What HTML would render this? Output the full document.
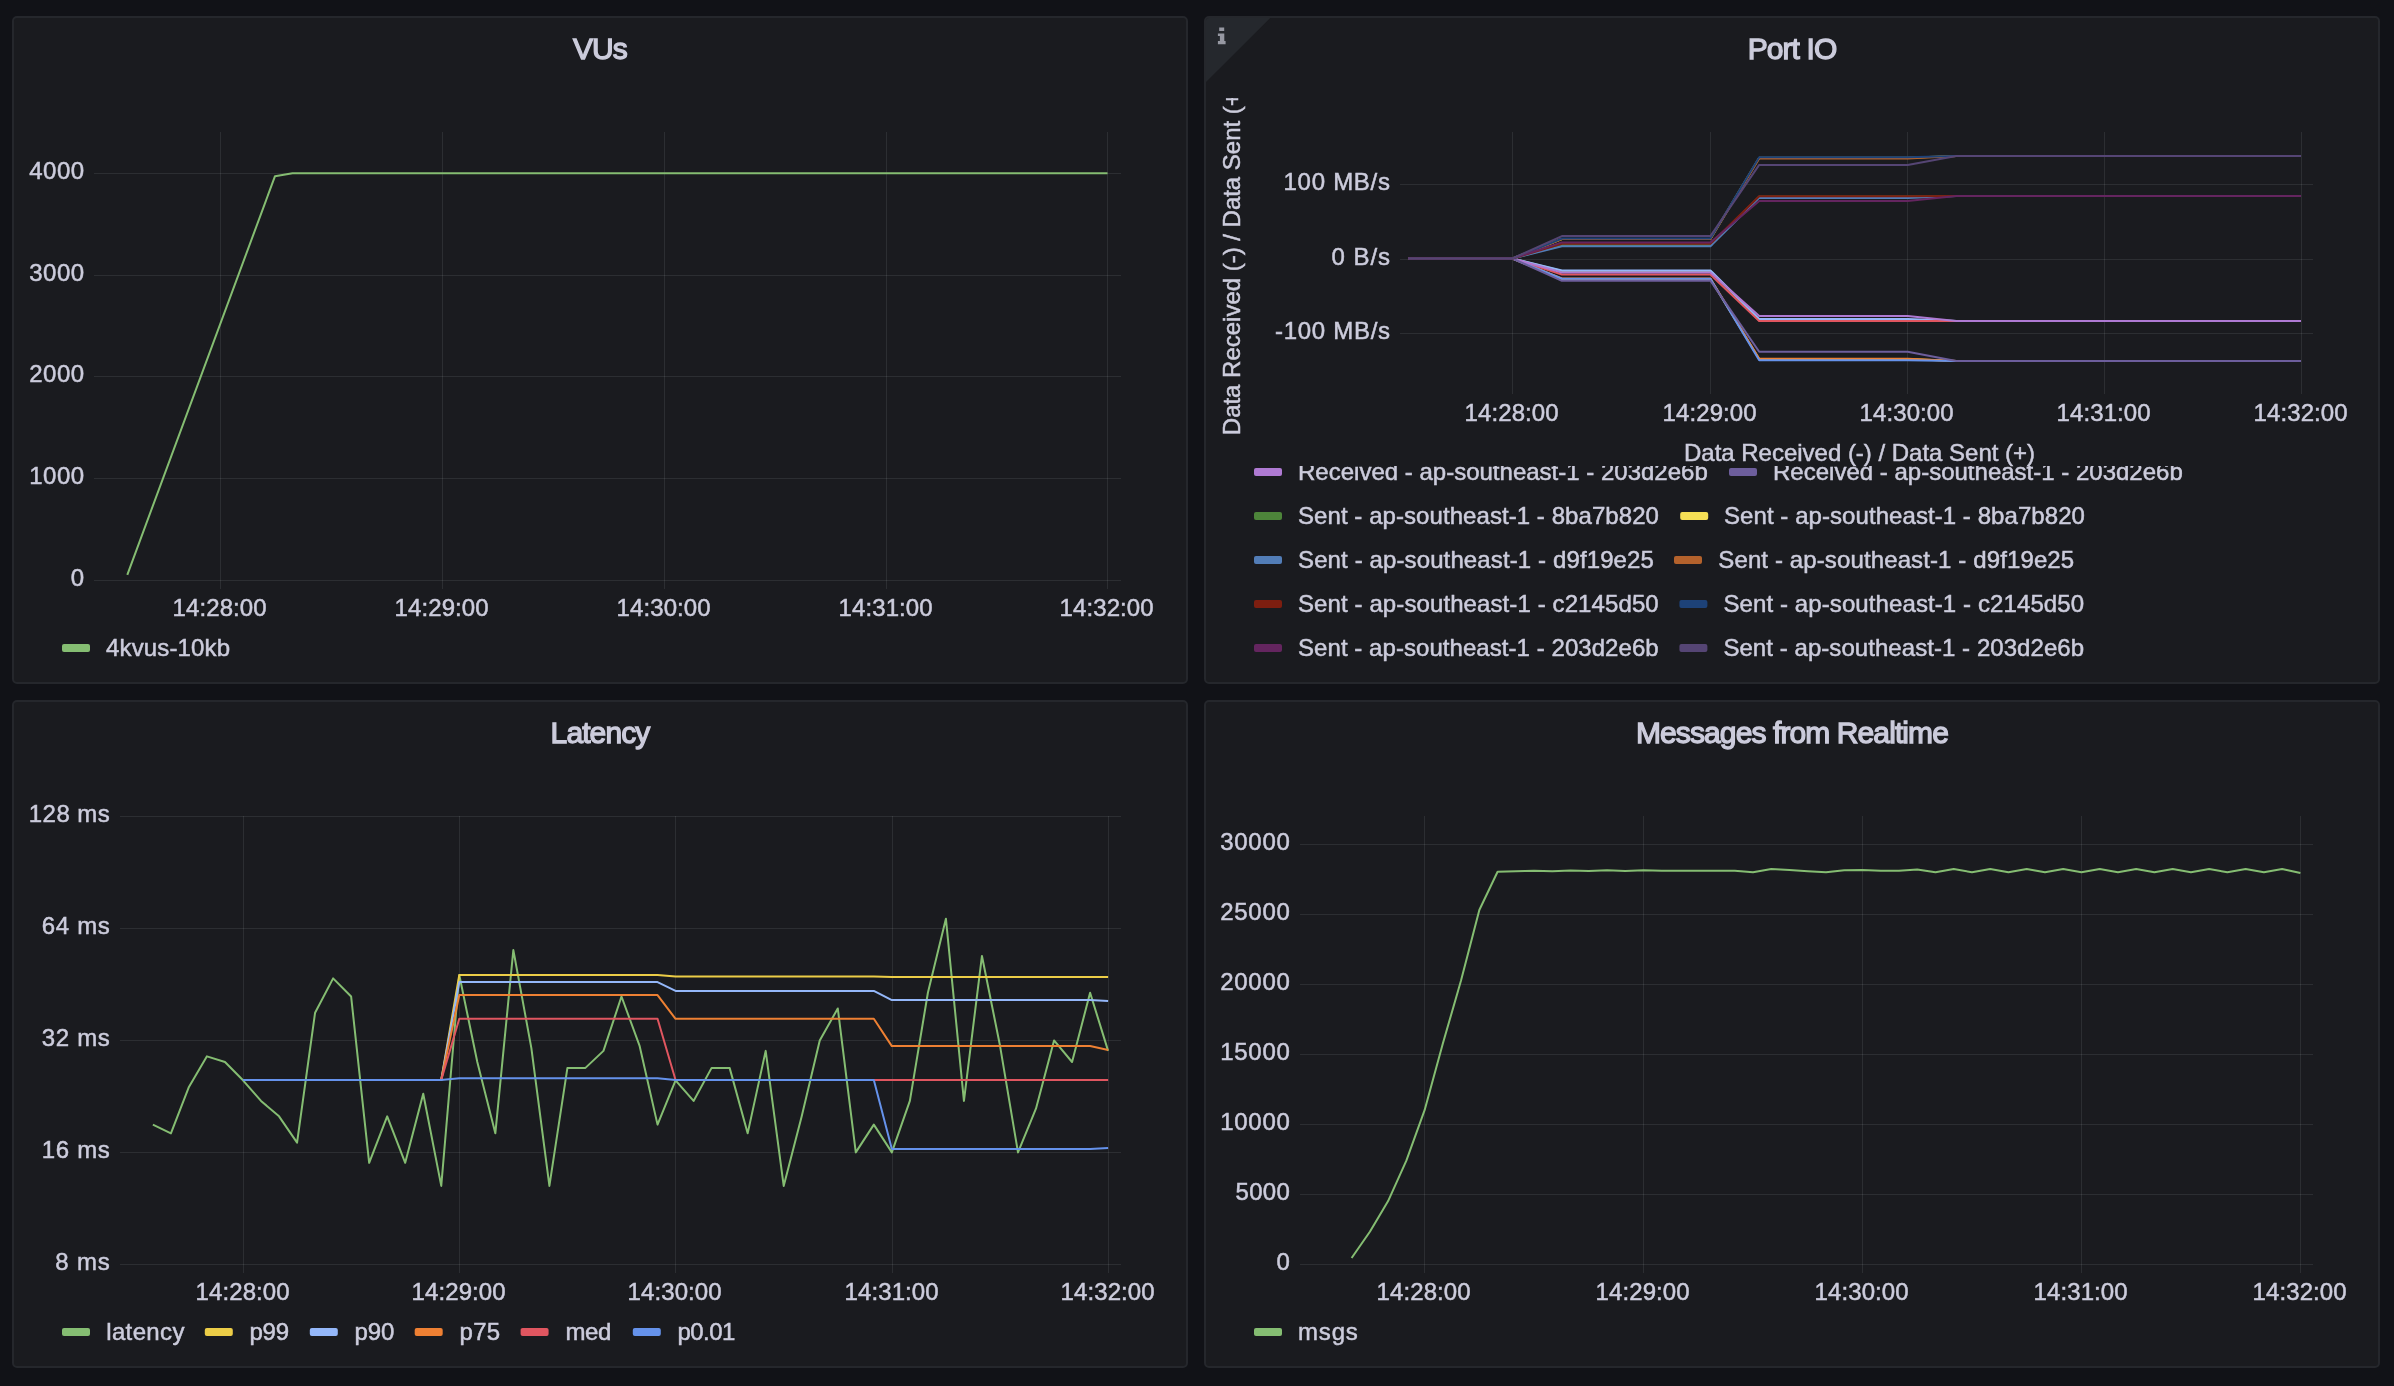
<!DOCTYPE html>
<html lang="en"><head><meta charset="utf-8"><title>Dashboard</title>
<style>
html,body{margin:0;padding:0;background:#111217;}
body{width:2394px;height:1386px;position:relative;overflow:hidden;font-family:"Liberation Sans", sans-serif;color:#ccccdc;}
.panel{position:absolute;box-sizing:border-box;background:#1a1b1f;border:2px solid #25272c;border-radius:5px;overflow:hidden;}
.title{position:absolute;left:0;right:0;top:11px;margin:0;text-align:center;font-size:30px;line-height:40px;font-weight:400;color:#ccccdc;-webkit-text-stroke:1.3px #ccccdc;letter-spacing:-0.9px;will-change:transform;}
.viz{position:absolute;left:-2px;top:-2px;display:block;will-change:transform;}
.viz text{font-family:"Liberation Sans", sans-serif;fill:#ccccdc;stroke:#ccccdc;stroke-width:0.5px;}
.grid rect{fill:rgba(240,250,255,0.085);shape-rendering:crispEdges;}
</style></head><body>
<section class="panel" style="left:12px;top:16px;width:1176px;height:668px">
<h2 class="title">VUs</h2>
<svg class="viz" width="1176" height="668" viewBox="12 16 1176 668">
<g class="grid">
<rect x="94" y="173" width="1027" height="1"/>
<rect x="94" y="275" width="1027" height="1"/>
<rect x="94" y="376" width="1027" height="1"/>
<rect x="94" y="478" width="1027" height="1"/>
<rect x="94" y="580" width="1027" height="1"/>
<rect x="220" y="132" width="1" height="457"/>
<rect x="442" y="132" width="1" height="457"/>
<rect x="664" y="132" width="1" height="457"/>
<rect x="886" y="132" width="1" height="457"/>
<rect x="1107" y="132" width="1" height="457"/>
</g>
<g class="ylabels">
<text x="84.2" y="179.2" text-anchor="end" font-size="24" textLength="55" lengthAdjust="spacing">4000</text>
<text x="84.2" y="281.2" text-anchor="end" font-size="24" textLength="55" lengthAdjust="spacing">3000</text>
<text x="84.2" y="382.2" text-anchor="end" font-size="24" textLength="55" lengthAdjust="spacing">2000</text>
<text x="84.2" y="484.2" text-anchor="end" font-size="24" textLength="55" lengthAdjust="spacing">1000</text>
<text x="84.2" y="586.2" text-anchor="end" font-size="24">0</text>
</g>
<g class="xlabels">
<text x="219.6" y="615.8" text-anchor="middle" font-size="24" textLength="94" lengthAdjust="spacing">14:28:00</text>
<text x="441.6" y="615.8" text-anchor="middle" font-size="24" textLength="94" lengthAdjust="spacing">14:29:00</text>
<text x="663.6" y="615.8" text-anchor="middle" font-size="24" textLength="94" lengthAdjust="spacing">14:30:00</text>
<text x="885.6" y="615.8" text-anchor="middle" font-size="24" textLength="94" lengthAdjust="spacing">14:31:00</text>
<text x="1106.6" y="615.8" text-anchor="middle" font-size="24" textLength="94" lengthAdjust="spacing">14:32:00</text>
</g>
<polyline points="127.3,574.8 275,176.2 292.5,173.3 1107.5,173.3" fill="none" stroke="#85bd72" stroke-width="2" stroke-linejoin="round" stroke-linecap="butt"/>
<g class="legend">
<rect x="62" y="644" width="28" height="8" rx="2" ry="2" fill="#85bd72"/>
<text x="106" y="656" text-anchor="start" font-size="24" textLength="124" lengthAdjust="spacing">4kvus-10kb</text>
</g>
</svg>
</section>
<section class="panel" style="left:1204px;top:16px;width:1176px;height:668px">
<h2 class="title">Port IO</h2>
<svg class="viz" width="1176" height="668" viewBox="1204 16 1176 668">
<polygon points="1206,18 1270.2,18 1206,82" fill="#25282d"/>
<path fill="#9698a2" d="M1219.2 27.5h5v3.6h-5z M1217.9 33.6h6.4v7.5h1.3v3.1h-7.7v-3.1h2v-5.1h-2z"/>
<g class="grid">
<rect x="1400" y="184" width="913" height="1"/>
<rect x="1400" y="259" width="913" height="1"/>
<rect x="1400" y="333" width="913" height="1"/>
<rect x="1512" y="132" width="1" height="262"/>
<rect x="1710" y="132" width="1" height="262"/>
<rect x="1907" y="132" width="1" height="262"/>
<rect x="2104" y="132" width="1" height="262"/>
<rect x="2301" y="132" width="1" height="262"/>
</g>
<g class="ylabels">
<text x="1390" y="190" text-anchor="end" font-size="24" textLength="106.5" lengthAdjust="spacing">100 MB/s</text>
<text x="1390" y="265" text-anchor="end" font-size="24" textLength="58.5" lengthAdjust="spacing">0 B/s</text>
<text x="1390" y="339" text-anchor="end" font-size="24" textLength="115" lengthAdjust="spacing">-100 MB/s</text>
</g>
<g class="xlabels">
<text x="1511.6" y="420.9" text-anchor="middle" font-size="24" textLength="94" lengthAdjust="spacing">14:28:00</text>
<text x="1709.6" y="420.9" text-anchor="middle" font-size="24" textLength="94" lengthAdjust="spacing">14:29:00</text>
<text x="1906.6" y="420.9" text-anchor="middle" font-size="24" textLength="94" lengthAdjust="spacing">14:30:00</text>
<text x="2103.6" y="420.9" text-anchor="middle" font-size="24" textLength="94" lengthAdjust="spacing">14:31:00</text>
<text x="2300.6" y="420.9" text-anchor="middle" font-size="24" textLength="94" lengthAdjust="spacing">14:32:00</text>
</g>
<clipPath id="c2"><rect x="1204" y="98" width="1176" height="600"/></clipPath>
<g clip-path="url(#c2)"><text transform="translate(1240 259.7) rotate(-90)" text-anchor="middle" font-size="24" textLength="351" lengthAdjust="spacing">Data Received (-) / Data Sent (+)</text></g>
<text x="1859.5" y="460.7" text-anchor="middle" font-size="24" textLength="351" lengthAdjust="spacing">Data Received (-) / Data Sent (+)</text>
<g class="series">
<polyline points="1408.2,258.5 1512.4,258.5 1561.9,271 1710.4,271 1759.2,320.5 1907.7,320.5 1956.2,321 2301,321" fill="none" stroke="#85bd72" stroke-width="2" stroke-linejoin="round" stroke-linecap="butt"/>
<polyline points="1408.2,258.5 1512.4,258.5 1561.9,279 1710.4,279 1759.2,359 1907.7,359 1956.2,361 2301,361" fill="none" stroke="#eccd47" stroke-width="2" stroke-linejoin="round" stroke-linecap="butt"/>
<polyline points="1408.2,258.5 1512.4,258.5 1561.9,270.4 1710.4,270.4 1759.2,319 1907.7,319 1956.2,321 2301,321" fill="none" stroke="#94b7f9" stroke-width="2" stroke-linejoin="round" stroke-linecap="butt"/>
<polyline points="1408.2,258.5 1512.4,258.5 1561.9,278.5 1710.4,278.5 1759.2,358.7 1907.7,358.7 1956.2,361 2301,361" fill="none" stroke="#ee8033" stroke-width="2" stroke-linejoin="round" stroke-linecap="butt"/>
<polyline points="1408.2,258.5 1512.4,258.5 1561.9,274.5 1710.4,274.5 1759.2,321.1 1907.7,321.1 1956.2,321 2301,321" fill="none" stroke="#e05660" stroke-width="2" stroke-linejoin="round" stroke-linecap="butt"/>
<polyline points="1408.2,258.5 1512.4,258.5 1561.9,278.7 1710.4,278.7 1759.2,360.2 1907.7,360.2 1956.2,361 2301,361" fill="none" stroke="#6592eb" stroke-width="2" stroke-linejoin="round" stroke-linecap="butt"/>
<polyline points="1408.2,258.5 1512.4,258.5 1561.9,272.5 1710.4,272.5 1759.2,315.9 1907.7,315.9 1956.2,321 2301,321" fill="none" stroke="#af7ad3" stroke-width="2" stroke-linejoin="round" stroke-linecap="butt"/>
<polyline points="1408.2,258.5 1512.4,258.5 1561.9,280.8 1710.4,280.8 1759.2,351.8 1907.7,351.8 1956.2,361 2301,361" fill="none" stroke="#6d5e9c" stroke-width="2" stroke-linejoin="round" stroke-linecap="butt"/>
<polyline points="1408.2,258.5 1512.4,258.5 1561.9,245 1710.4,245 1759.2,196.5 1907.7,196.5 1956.2,196 2301,196" fill="none" stroke="#4d853a" stroke-width="2" stroke-linejoin="round" stroke-linecap="butt"/>
<polyline points="1408.2,258.5 1512.4,258.5 1561.9,239 1710.4,239 1759.2,157.8 1907.7,157.8 1956.2,156 2301,156" fill="none" stroke="#f5df55" stroke-width="2" stroke-linejoin="round" stroke-linecap="butt"/>
<polyline points="1408.2,258.5 1512.4,258.5 1561.9,246.3 1710.4,246.3 1759.2,197.9 1907.7,197.9 1956.2,196 2301,196" fill="none" stroke="#527db7" stroke-width="2" stroke-linejoin="round" stroke-linecap="butt"/>
<polyline points="1408.2,258.5 1512.4,258.5 1561.9,239 1710.4,239 1759.2,158.4 1907.7,158.4 1956.2,156 2301,156" fill="none" stroke="#b4622c" stroke-width="2" stroke-linejoin="round" stroke-linecap="butt"/>
<polyline points="1408.2,258.5 1512.4,258.5 1561.9,243.8 1710.4,243.8 1759.2,196.2 1907.7,196.2 1956.2,196 2301,196" fill="none" stroke="#7d1e10" stroke-width="2" stroke-linejoin="round" stroke-linecap="butt"/>
<polyline points="1408.2,258.5 1512.4,258.5 1561.9,238.6 1710.4,238.6 1759.2,157.2 1907.7,157.2 1956.2,156 2301,156" fill="none" stroke="#1d4278" stroke-width="2" stroke-linejoin="round" stroke-linecap="butt"/>
<polyline points="1408.2,258.5 1512.4,258.5 1561.9,242.4 1710.4,242.4 1759.2,201 1907.7,201 1956.2,196 2301,196" fill="none" stroke="#64255f" stroke-width="2" stroke-linejoin="round" stroke-linecap="butt"/>
<polyline points="1408.2,258.5 1512.4,258.5 1561.9,236.1 1710.4,236.1 1759.2,164.9 1907.7,164.9 1956.2,156 2301,156" fill="none" stroke="#554574" stroke-width="2" stroke-linejoin="round" stroke-linecap="butt"/>
</g>
<clipPath id="l2"><rect x="1204" y="466" width="1176" height="214"/></clipPath>
<g class="legend" clip-path="url(#l2)">
<rect x="1254" y="468" width="28" height="8" rx="2" ry="2" fill="#af7ad3"/>
<text x="1298" y="480" text-anchor="start" font-size="24" textLength="409.8" lengthAdjust="spacing">Received - ap-southeast-1 - 203d2e6b</text>
<rect x="1729" y="468" width="28" height="8" rx="2" ry="2" fill="#6d5e9c"/>
<text x="1773" y="480" text-anchor="start" font-size="24" textLength="409.8" lengthAdjust="spacing">Received - ap-southeast-1 - 203d2e6b</text>
<rect x="1254" y="512" width="28" height="8" rx="2" ry="2" fill="#4d853a"/>
<text x="1298" y="524" text-anchor="start" font-size="24" textLength="360.9" lengthAdjust="spacing">Sent - ap-southeast-1 - 8ba7b820</text>
<rect x="1680.2" y="512" width="28" height="8" rx="2" ry="2" fill="#f5df55"/>
<text x="1724" y="524" text-anchor="start" font-size="24" textLength="360.9" lengthAdjust="spacing">Sent - ap-southeast-1 - 8ba7b820</text>
<rect x="1254" y="556" width="28" height="8" rx="2" ry="2" fill="#527db7"/>
<text x="1298" y="568" text-anchor="start" font-size="24" textLength="355.9" lengthAdjust="spacing">Sent - ap-southeast-1 - d9f19e25</text>
<rect x="1674" y="556" width="28" height="8" rx="2" ry="2" fill="#b4622c"/>
<text x="1718.3" y="568" text-anchor="start" font-size="24" textLength="355.9" lengthAdjust="spacing">Sent - ap-southeast-1 - d9f19e25</text>
<rect x="1254" y="600" width="28" height="8" rx="2" ry="2" fill="#7d1e10"/>
<text x="1298" y="612" text-anchor="start" font-size="24" textLength="360.7" lengthAdjust="spacing">Sent - ap-southeast-1 - c2145d50</text>
<rect x="1679.4" y="600" width="28" height="8" rx="2" ry="2" fill="#1d4278"/>
<text x="1723.4" y="612" text-anchor="start" font-size="24" textLength="360.7" lengthAdjust="spacing">Sent - ap-southeast-1 - c2145d50</text>
<rect x="1254" y="644" width="28" height="8" rx="2" ry="2" fill="#64255f"/>
<text x="1298" y="656" text-anchor="start" font-size="24" textLength="360.7" lengthAdjust="spacing">Sent - ap-southeast-1 - 203d2e6b</text>
<rect x="1679.4" y="644" width="28" height="8" rx="2" ry="2" fill="#554574"/>
<text x="1723.4" y="656" text-anchor="start" font-size="24" textLength="360.7" lengthAdjust="spacing">Sent - ap-southeast-1 - 203d2e6b</text>
</g>
</svg>
</section>
<section class="panel" style="left:12px;top:700px;width:1176px;height:668px">
<h2 class="title">Latency</h2>
<svg class="viz" width="1176" height="668" viewBox="12 700 1176 668">
<g class="grid">
<rect x="120" y="816" width="1001" height="1"/>
<rect x="120" y="928" width="1001" height="1"/>
<rect x="120" y="1040" width="1001" height="1"/>
<rect x="120" y="1152" width="1001" height="1"/>
<rect x="120" y="1264" width="1001" height="1"/>
<rect x="243" y="816" width="1" height="457"/>
<rect x="459" y="816" width="1" height="457"/>
<rect x="675" y="816" width="1" height="457"/>
<rect x="892" y="816" width="1" height="457"/>
<rect x="1108" y="816" width="1" height="457"/>
</g>
<g class="ylabels">
<text x="109.8" y="822" text-anchor="end" font-size="24" textLength="81" lengthAdjust="spacing">128 ms</text>
<text x="109.8" y="934" text-anchor="end" font-size="24" textLength="68" lengthAdjust="spacing">64 ms</text>
<text x="109.8" y="1046" text-anchor="end" font-size="24" textLength="68" lengthAdjust="spacing">32 ms</text>
<text x="109.8" y="1158" text-anchor="end" font-size="24" textLength="68" lengthAdjust="spacing">16 ms</text>
<text x="109.8" y="1270" text-anchor="end" font-size="24" textLength="54.5" lengthAdjust="spacing">8 ms</text>
</g>
<g class="xlabels">
<text x="242.6" y="1299.5" text-anchor="middle" font-size="24" textLength="94" lengthAdjust="spacing">14:28:00</text>
<text x="458.6" y="1299.5" text-anchor="middle" font-size="24" textLength="94" lengthAdjust="spacing">14:29:00</text>
<text x="674.6" y="1299.5" text-anchor="middle" font-size="24" textLength="94" lengthAdjust="spacing">14:30:00</text>
<text x="891.6" y="1299.5" text-anchor="middle" font-size="24" textLength="94" lengthAdjust="spacing">14:31:00</text>
<text x="1107.6" y="1299.5" text-anchor="middle" font-size="24" textLength="94" lengthAdjust="spacing">14:32:00</text>
</g>
<g class="series">
<polyline points="152.88,1124.62 170.91,1133.35 188.93,1086.9 206.95,1056.34 224.98,1062 243,1080.3 261.02,1100.95 279.05,1116.34 297.07,1142.58 315.09,1012.69 333.12,978.36 351.14,996.53 369.16,1162.79 387.19,1116.34 405.21,1162.79 423.23,1093.77 441.26,1185.9 459.28,974.97 477.3,1062 495.33,1133.35 513.35,950.07 531.37,1048.19 549.4,1185.9 567.42,1067.88 585.44,1067.88 603.47,1050.86 621.49,996.53 639.51,1045.57 657.54,1124.62 675.56,1080.3 693.58,1100.95 711.61,1067.88 729.63,1067.88 747.65,1133.35 765.68,1050.86 783.7,1185.9 801.72,1116.34 819.75,1040.44 837.77,1008.49 855.79,1152.37 873.82,1124.62 891.84,1152.37 909.86,1100.95 927.89,992.73 945.91,918.72 963.93,1100.95 981.96,955.95 999.98,1045.57 1018,1152.37 1036.03,1108.46 1054.05,1040.44 1072.07,1062 1090.1,992.73 1108.12,1050.86" fill="none" stroke="#85bd72" stroke-width="2" stroke-linejoin="round" stroke-linecap="butt"/>
<polyline points="243,1080 441.26,1080 459.28,975 657.54,975 675.56,976.4 873.82,976.4 891.84,977.1 1090.1,977.1 1108.12,977.1" fill="none" stroke="#eccd47" stroke-width="2" stroke-linejoin="round" stroke-linecap="butt"/>
<polyline points="243,1080 441.26,1080 459.28,982.1 657.54,982.1 675.56,990.9 873.82,990.9 891.84,1000.1 1090.1,1000.1 1108.12,1001.1" fill="none" stroke="#94b7f9" stroke-width="2" stroke-linejoin="round" stroke-linecap="butt"/>
<polyline points="243,1080 441.26,1080 459.28,995.1 657.54,995.1 675.56,1018.8 873.82,1018.8 891.84,1046.1 1090.1,1046.1 1108.12,1050" fill="none" stroke="#ee8033" stroke-width="2" stroke-linejoin="round" stroke-linecap="butt"/>
<polyline points="243,1080 441.26,1080 459.28,1018.8 657.54,1018.8 675.56,1080 873.82,1080 891.84,1080 1090.1,1080 1108.12,1080" fill="none" stroke="#e05660" stroke-width="2" stroke-linejoin="round" stroke-linecap="butt"/>
<polyline points="243,1080 441.26,1080 459.28,1078.2 657.54,1078.2 675.56,1080 873.82,1080 891.84,1149.1 1090.1,1149.1 1108.12,1147.9" fill="none" stroke="#6592eb" stroke-width="2" stroke-linejoin="round" stroke-linecap="butt"/>
</g>
<g class="legend">
<rect x="62" y="1328" width="28" height="8" rx="2" ry="2" fill="#85bd72"/>
<text x="106.2" y="1340" text-anchor="start" font-size="24" textLength="78.2" lengthAdjust="spacing">latency</text>
<rect x="204.8" y="1328" width="28" height="8" rx="2" ry="2" fill="#eccd47"/>
<text x="249.6" y="1340" text-anchor="start" font-size="24" textLength="39.4" lengthAdjust="spacing">p99</text>
<rect x="309.8" y="1328" width="28" height="8" rx="2" ry="2" fill="#94b7f9"/>
<text x="354.6" y="1340" text-anchor="start" font-size="24" textLength="39.7" lengthAdjust="spacing">p90</text>
<rect x="414.7" y="1328" width="28" height="8" rx="2" ry="2" fill="#ee8033"/>
<text x="459.5" y="1340" text-anchor="start" font-size="24" textLength="40.7" lengthAdjust="spacing">p75</text>
<rect x="520.6" y="1328" width="28" height="8" rx="2" ry="2" fill="#e05660"/>
<text x="565.4" y="1340" text-anchor="start" font-size="24" textLength="46" lengthAdjust="spacing">med</text>
<rect x="632.8" y="1328" width="28" height="8" rx="2" ry="2" fill="#6592eb"/>
<text x="677.6" y="1340" text-anchor="start" font-size="24" textLength="57.7" lengthAdjust="spacing">p0.01</text>
</g>
</svg>
</section>
<section class="panel" style="left:1204px;top:700px;width:1176px;height:668px">
<h2 class="title">Messages from Realtime</h2>
<svg class="viz" width="1176" height="668" viewBox="1204 700 1176 668">
<g class="grid">
<rect x="1300" y="844" width="1013" height="1"/>
<rect x="1300" y="914" width="1013" height="1"/>
<rect x="1300" y="984" width="1013" height="1"/>
<rect x="1300" y="1054" width="1013" height="1"/>
<rect x="1300" y="1124" width="1013" height="1"/>
<rect x="1300" y="1194" width="1013" height="1"/>
<rect x="1300" y="1264" width="1013" height="1"/>
<rect x="1424" y="816" width="1" height="457"/>
<rect x="1643" y="816" width="1" height="457"/>
<rect x="1862" y="816" width="1" height="457"/>
<rect x="2081" y="816" width="1" height="457"/>
<rect x="2300" y="816" width="1" height="457"/>
</g>
<g class="ylabels">
<text x="1289.8" y="850" text-anchor="end" font-size="24" textLength="69.5" lengthAdjust="spacing">30000</text>
<text x="1289.8" y="920" text-anchor="end" font-size="24" textLength="69.5" lengthAdjust="spacing">25000</text>
<text x="1289.8" y="990" text-anchor="end" font-size="24" textLength="69.5" lengthAdjust="spacing">20000</text>
<text x="1289.8" y="1060" text-anchor="end" font-size="24" textLength="69.5" lengthAdjust="spacing">15000</text>
<text x="1289.8" y="1130" text-anchor="end" font-size="24" textLength="69.5" lengthAdjust="spacing">10000</text>
<text x="1289.8" y="1200" text-anchor="end" font-size="24" textLength="54.3" lengthAdjust="spacing">5000</text>
<text x="1289.8" y="1270" text-anchor="end" font-size="24">0</text>
</g>
<g class="xlabels">
<text x="1423.6" y="1299.5" text-anchor="middle" font-size="24" textLength="94" lengthAdjust="spacing">14:28:00</text>
<text x="1642.6" y="1299.5" text-anchor="middle" font-size="24" textLength="94" lengthAdjust="spacing">14:29:00</text>
<text x="1861.6" y="1299.5" text-anchor="middle" font-size="24" textLength="94" lengthAdjust="spacing">14:30:00</text>
<text x="2080.6" y="1299.5" text-anchor="middle" font-size="24" textLength="94" lengthAdjust="spacing">14:31:00</text>
<text x="2299.6" y="1299.5" text-anchor="middle" font-size="24" textLength="94" lengthAdjust="spacing">14:32:00</text>
</g>
<polyline points="1351.62,1258 1369.86,1231.7 1388.11,1201.1 1406.35,1160.7 1424.6,1110.2 1442.85,1043.4 1461.09,980.3 1479.34,910 1497.58,871.8 1515.83,871.3 1534.07,870.7 1552.32,871.2 1570.57,870.5 1588.81,871 1607.06,870.3 1625.3,871 1643.55,870.3 1661.8,870.8 1680.04,870.8 1698.29,870.8 1716.53,870.8 1734.78,870.8 1753.02,872.3 1771.27,868.9 1789.52,870.1 1807.76,871.3 1826.01,872.3 1844.25,870.2 1862.5,870.1 1880.75,870.8 1898.99,870.8 1917.24,869.5 1935.48,872.3 1953.73,869 1971.97,872.3 1990.22,869 2008.47,872.3 2026.71,869 2044.96,872.3 2063.2,869 2081.45,872.3 2099.7,869 2117.94,872.3 2136.19,869 2154.43,872.3 2172.68,869 2190.93,872.3 2209.17,869 2227.42,872.3 2245.66,869 2263.91,872.3 2282.15,869 2300.4,872.9" fill="none" stroke="#85bd72" stroke-width="2" stroke-linejoin="round" stroke-linecap="butt"/>
<g class="legend">
<rect x="1254" y="1328" width="28" height="8" rx="2" ry="2" fill="#85bd72"/>
<text x="1298" y="1340" text-anchor="start" font-size="24" textLength="59.8" lengthAdjust="spacing">msgs</text>
</g>
</svg>
</section>
</body></html>
